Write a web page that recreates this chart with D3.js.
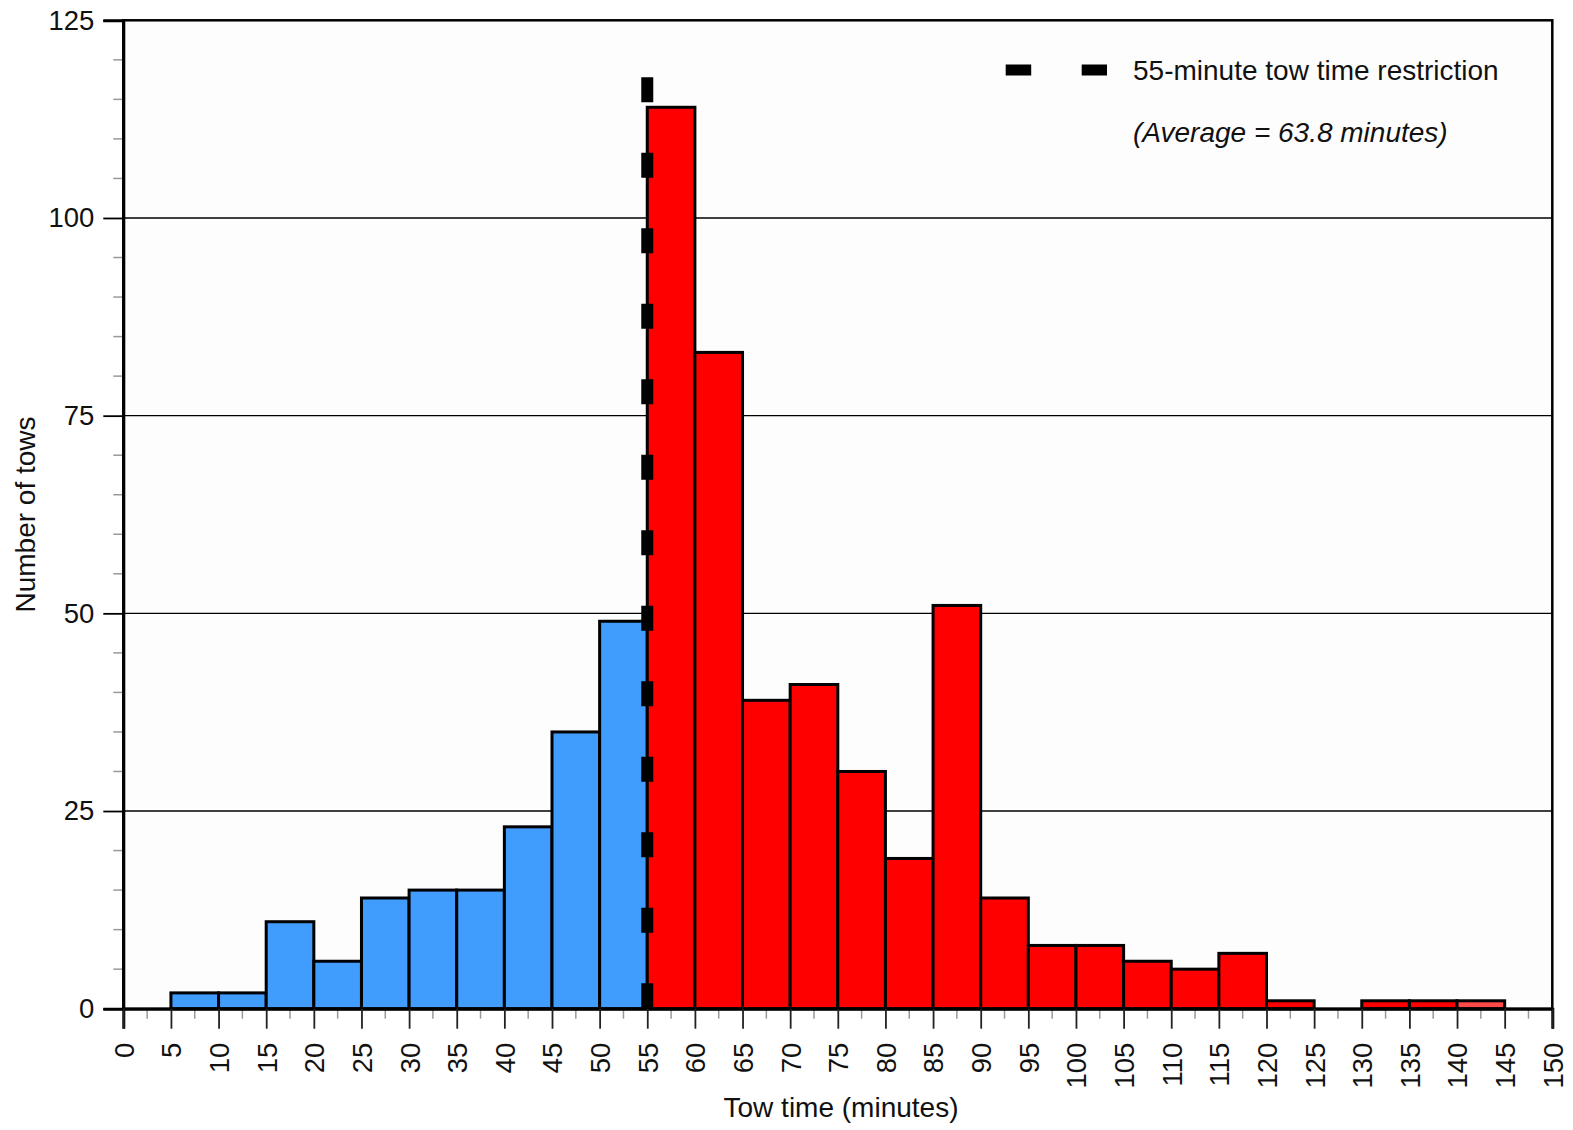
<!DOCTYPE html>
<html><head><meta charset="utf-8">
<script src="https://cdn.jsdelivr.net/npm/d3@7"></script>
<style>body{margin:0;background:#fff}svg{display:block}text{font-family:"Liberation Sans",Arial,sans-serif;fill:#111}</style>
</head><body>
<script>
const binStarts = [5,10,15,20,25,30,35,40,45,50,55,60,65,70,75,80,85,90,95,100,105,110,115,120,125,130,135,140];
const counts    = [2,2,11,6,14,15,15,23,35,49,114,83,39,41,30,19,51,14,8,8,6,5,7,1,0,1,1,1];
const binWidth = 5;
const restriction = 55;
const xTicks = d3.range(0,151,5);
const yTicks = [0,25,50,75,100,125];
const legendLabel = "55-minute tow time restriction";
const avgLabel = "(Average = 63.8 minutes)";

const W=1573,H=1130;
const svg=d3.select("body").append("svg").attr("width",W).attr("height",H);
const x=d3.scaleLinear().domain([0,150]).range([123.3,1552.3]);
const y=d3.scaleLinear().domain([0,125]).range([1008.7,20.3]);
const FS=27.5;

svg.append("rect").attr("x",x(0)).attr("y",y(125)).attr("width",x(150)-x(0)).attr("height",y(0)-y(125)).attr("fill","#fdfdfd");

// gridlines
svg.append("g").selectAll("line").data([25,50,75,100]).join("line")
  .attr("x1",x(0)).attr("x2",x(150)).attr("y1",d=>y(d)).attr("y2",d=>y(d))
  .attr("stroke","#000").attr("stroke-width",1.3);

// y minor ticks
svg.append("g").selectAll("line").data(d3.range(0,126,5).filter(d=>d%25!==0)).join("line")
  .attr("x1",x(0)-10).attr("x2",x(0)).attr("y1",d=>y(d)).attr("y2",d=>y(d))
  .attr("stroke","#999").attr("stroke-width",1.5);
// x minor ticks
svg.append("g").selectAll("line").data(d3.range(2.5,150,5)).join("line")
  .attr("x1",d=>x(d)).attr("x2",d=>x(d)).attr("y1",y(0)).attr("y2",y(0)+10)
  .attr("stroke","#999").attr("stroke-width",1.5);

// bars
const data=binStarts.map((s,i)=>({s,c:counts[i]})).filter(d=>d.c>0);
svg.append("g").selectAll("rect").data(data).join("rect")
  .attr("x",d=>x(d.s)).attr("width",d=>x(d.s+binWidth)-x(d.s))
  .attr("y",d=>y(d.c)).attr("height",d=>y(0)-y(d.c))
  .attr("fill",d=>d.s<restriction?"#409dfe":(d.s>=140?"#ff4a4a":"#ff0000"))
  .attr("stroke","#000").attr("stroke-width",3);

// frame
svg.append("rect").attr("x",x(0)).attr("y",y(125)).attr("width",x(150)-x(0)).attr("height",y(0)-y(125))
  .attr("fill","none").attr("stroke","#000").attr("stroke-width",2.5);

// y axis
const yAxis=d3.axisLeft(y).tickValues(yTicks).tickSize(20).tickPadding(9);
const gy=svg.append("g").attr("transform",`translate(${x(0)},0)`).call(yAxis);
gy.select(".domain").attr("stroke","#000").attr("stroke-width",3);
gy.selectAll(".tick line").attr("stroke","#000").attr("stroke-width",1.8);
gy.selectAll(".tick text").attr("font-size",FS).attr("font-family","Liberation Sans, Arial, sans-serif").attr("fill","#111");

// x axis
const xAxis=d3.axisBottom(x).tickValues(xTicks).tickSize(20).tickFormat(d3.format("d"));
const gx=svg.append("g").attr("transform",`translate(0,${y(0)})`).call(xAxis);
gx.select(".domain").attr("stroke","#000").attr("stroke-width",3);
gx.selectAll(".tick line").attr("stroke","#222").attr("stroke-width",1.8);
gx.selectAll(".tick text").attr("font-size",FS).attr("font-family","Liberation Sans, Arial, sans-serif").attr("fill","#111")
  .attr("text-anchor","end").attr("transform","rotate(-90)").attr("x",-34).attr("y",0).attr("dy","0.36em");

// restriction line
svg.append("line").attr("x1",x(restriction)).attr("x2",x(restriction))
  .attr("y1",y(117.8)).attr("y2",y(-0.1))
  .attr("stroke","#000").attr("stroke-width",12).attr("stroke-dasharray","25,50.5");

// legend
svg.append("line").attr("x1",1005.7).attr("x2",1107).attr("y1",70).attr("y2",70)
  .attr("stroke","#000").attr("stroke-width",11).attr("stroke-dasharray","25.5,50.5");
svg.append("text").attr("x",1133).attr("y",79.5).attr("font-size",28).text(legendLabel);
svg.append("text").attr("x",1133).attr("y",142).attr("font-size",28).attr("font-style","italic").text(avgLabel);

// titles
svg.append("text").attr("x",841).attr("y",1117).attr("text-anchor","middle").attr("font-size",28).text("Tow time (minutes)");
svg.append("text").attr("transform",`translate(35,${(y(0)+y(125))/2}) rotate(-90)`).attr("text-anchor","middle").attr("font-size",28).text("Number of tows");
</script>
</body></html>
